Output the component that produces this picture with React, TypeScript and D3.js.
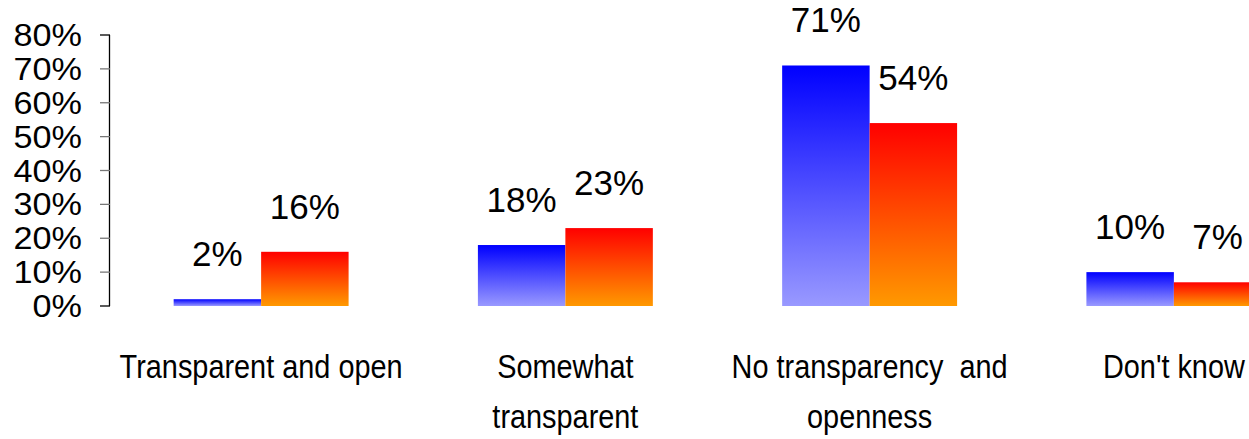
// Grouped bar chart: two series per category, each bar filled with a vertical gradient.
import { useMemo } from "react";
import * as d3 from "d3";

const categories = [
  ["Transparent and open"],
  ["Somewhat", "transparent"],
  ["No transparency  and", "openness"],
  ["Don't know"],
];
const seriesA = [0.02, 0.18, 0.71, 0.1];
const seriesB = [0.16, 0.23, 0.54, 0.07];
const yTicks = [0, 0.1, 0.2, 0.3, 0.4, 0.5, 0.6, 0.7, 0.8];

const W = 1249;
const H = 439;
const FONT = "'Liberation Sans', Arial, Helvetica, sans-serif";

export default function App() {
  const { x, xInner, y } = useMemo(() => {
    const x = d3
      .scaleBand<number>()
      .domain(categories.map((_, i) => i))
      .range([109, 1326])
      .paddingInner(0.425)
      .paddingOuter(0.2125);
    const xInner = d3.scaleBand<string>().domain(["a", "b"]).range([0, x.bandwidth()]);
    const y = d3.scaleLinear().domain([0, 0.8]).range([306, 35]);
    return { x, xInner, y };
  }, []);

  const fmt = d3.format(".0%");
  const series = [
    { key: "a", values: seriesA, fill: "url(#gradBlue)" },
    { key: "b", values: seriesB, fill: "url(#gradOrange)" },
  ];

  return (
    <svg
      width={W}
      height={H}
      style={{ position: "absolute", left: 0, top: 0, overflow: "hidden", background: "#fff" }}
      fontFamily={FONT}
    >
      <defs>
        <linearGradient id="gradBlue" x1="0" y1="0" x2="0" y2="1">
          <stop offset="0" stopColor="#0000ff" />
          <stop offset="1" stopColor="#9999ff" />
        </linearGradient>
        <linearGradient id="gradOrange" x1="0" y1="0" x2="0" y2="1">
          <stop offset="0" stopColor="#ff0000" />
          <stop offset="1" stopColor="#ff9900" />
        </linearGradient>
      </defs>

      {/* y axis */}
      <line x1={109.5} x2={109.5} y1={y(0.8)} y2={y(0)} stroke="#000" strokeWidth={1.3} />
      {yTicks.map((t) => (
        <g key={t}>
          <line x1={100} x2={110} y1={y(t)} y2={y(t)} stroke={t === 0 || t === 0.8 ? "#000" : "#777"} strokeWidth={1.3} />
          <text
            transform={`translate(82,${y(t) + 11}) scale(1.07,1)`}
            textAnchor="end"
            fontSize={32}
            fill="#000"
          >
            {fmt(t)}
          </text>
        </g>
      ))}

      {/* bars */}
      {series.map((s) =>
        s.values.map((v, i) => {
          const bx = (x(i) ?? 0) + (xInner(s.key) ?? 0);
          const bw = xInner.bandwidth();
          const cx = bx + bw / 2;
          return (
            <g key={s.key + i}>
              <rect x={bx} y={y(v)} width={bw} height={y(0) - y(v)} fill={s.fill} />
              <text x={cx} y={y(v) - 33} textAnchor="middle" fontSize={35} fill="#000">
                {fmt(v)}
              </text>
            </g>
          );
        })
      )}

      {/* category labels */}
      {categories.map((lines, i) => {
        const cx = (x(i) ?? 0) + x.bandwidth() / 2;
        return lines.map((line, j) => (
          <text
            key={i + "-" + j}
            transform={`translate(${cx},${378 + j * 50}) scale(0.875,1)`}
            textAnchor="middle"
            fontSize={33}
            fill="#000"
            style={{ whiteSpace: "pre" }}
          >
            {line}
          </text>
        ));
      })}
    </svg>
  );
}
